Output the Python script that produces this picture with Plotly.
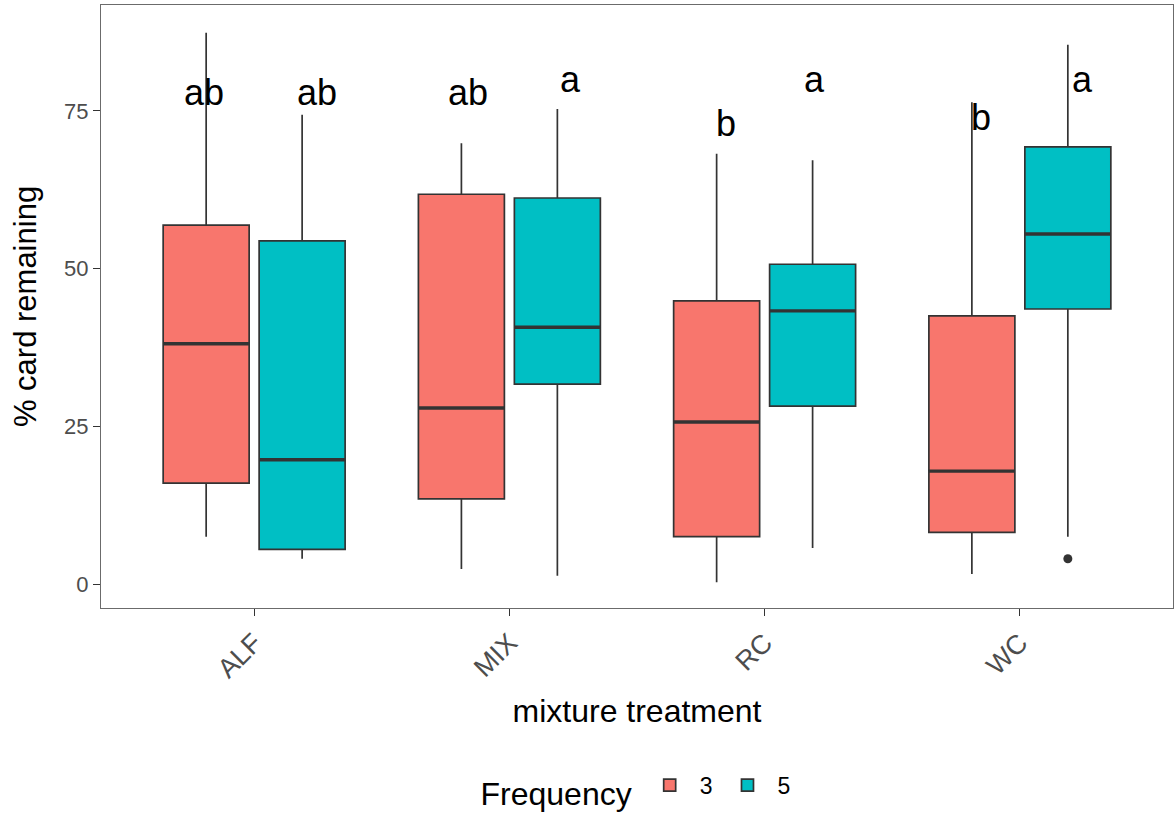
import plotly.graph_objects as go

categories = ["ALF", "MIX", "RC", "WC"]
frequencies = ["3", "5"]

# precomputed box statistics, per frequency, in category order
q1_f3 = [16.0, 13.5, 7.5, 8.2]
median_f3 = [38.1, 27.9, 25.7, 17.9]
q3_f3 = [56.9, 61.8, 44.9, 42.5]
lower_f3 = [7.5, 2.4, 0.3, 1.6]
upper_f3 = [87.4, 69.9, 68.2, 76.4]

q1_f5 = [5.5, 31.7, 28.2, 43.6]
median_f5 = [19.7, 40.7, 43.3, 55.5]
q3_f5 = [54.4, 61.2, 50.7, 69.3]
lower_f5 = [4.0, 1.3, 5.7, 7.5]
upper_f5 = [74.4, 75.3, 67.2, 85.5]

# outliers (category, value) per frequency
outlier_cat_f3 = []
outlier_val_f3 = []
outlier_cat_f5 = ["WC"]
outlier_val_f5 = [4.0]

# significance letters
letters_f3 = ["ab", "ab", "b", "b"]
letters_f5 = ["ab", "a", "a", "a"]
letter_y_f3 = [75.5, 75.5, 70.6, 71.5]
letter_y_f5 = [75.5, 77.5, 77.5, 77.5]

colors = {"3": "#F8766D", "5": "#00BFC4"}
FONT = "Liberation Sans, Arial, Helvetica, sans-serif"

fig = go.Figure()
stats = {
    "3": (q1_f3, median_f3, q3_f3, lower_f3, upper_f3, outlier_cat_f3, outlier_val_f3),
    "5": (q1_f5, median_f5, q3_f5, lower_f5, upper_f5, outlier_cat_f5, outlier_val_f5),
}
for f in frequencies:
    q1, med, q3, lo, up, oc, ov = stats[f]
    fig.add_trace(go.Box(
        name=f,
        x=categories,
        q1=q1, median=med, q3=q3, lowerfence=lo, upperfence=up,
        boxpoints=False,
        fillcolor=colors[f],
        line=dict(color="#333333", width=1.7),
        whiskerwidth=0,
        offsetgroup=f,
        legendgroup=f,
        hoverinfo="skip",
    ))
# thicker median bars (ggplot draws the median at double width)
for f in frequencies:
    q1, med, q3, lo, up, oc, ov = stats[f]
    fig.add_trace(go.Box(
        name=f,
        x=categories,
        q1=med, median=med, q3=med, lowerfence=med, upperfence=med,
        boxpoints=False,
        fillcolor="rgba(0,0,0,0)",
        line=dict(color="#333333", width=3.4),
        whiskerwidth=0,
        offsetgroup=f,
        legendgroup=f,
        showlegend=False,
        hoverinfo="skip",
    ))
for f in frequencies:
    q1, med, q3, lo, up, oc, ov = stats[f]
    fig.add_trace(go.Scatter(
        x=oc, y=ov, mode="markers",
        marker=dict(color="#333333", size=9),
        offsetgroup=f, legendgroup=f, showlegend=False, hoverinfo="skip",
    ))

# letter annotations, shifted to sit over each dodged box
shift_f3 = [-50, -41, -39, -39]
shift_f5 = [63, 61, 50, 63]
for i, c in enumerate(categories):
    for lab, yy, sh in ((letters_f3[i], letter_y_f3[i], shift_f3[i]),
                        (letters_f5[i], letter_y_f5[i], shift_f5[i])):
        fig.add_annotation(x=c, y=yy, xshift=sh, yshift=-7, text=lab, showarrow=False,
                           yanchor="bottom", xanchor="center",
                           font=dict(family=FONT, size=36, color="black"))

fig.update_layout(
    width=1175, height=814,
    margin=dict(l=101, r=2, t=5, b=206),
    paper_bgcolor="white", plot_bgcolor="white",
    boxmode="group", boxgap=0.248, boxgroupgap=0.104,
    scattermode="group", scattergap=0.248,
    font=dict(family=FONT, color="black"),
    showlegend=True,
    legend=dict(
        orientation="h", x=0.5, xanchor="center",
        yref="container", y=0.03, yanchor="middle",
        title=dict(text="Frequency", font=dict(size=32, color="black"), side="left"),
        font=dict(size=23, color="black"),
        itemwidth=50,
    ),
)
fig.update_xaxes(
    type="category", categoryorder="array", categoryarray=categories,
    range=[-0.6, 3.6], automargin=False,
    showline=True, mirror=True, linecolor="#6b6b6b", linewidth=1.3,
    ticks="outside", ticklen=7, tickcolor="#333333", tickwidth=1.3,
    tickangle=-45, tickfont=dict(size=27, color="#4D4D4D"),
    showgrid=False, zeroline=False,
    title=dict(text="mixture treatment", font=dict(size=32, color="black"), standoff=16),
)
fig.update_yaxes(
    type="linear", range=[-3.8, 91.8], tickvals=[0, 25, 50, 75], automargin=False,
    showline=True, mirror=True, linecolor="#6b6b6b", linewidth=1.3,
    ticks="outside", ticklen=7, tickcolor="#333333", tickwidth=1.3,
    tickfont=dict(size=22, color="#4D4D4D"),
    showgrid=False, zeroline=False,
    title=dict(text="% card remaining", font=dict(size=31, color="black"), standoff=18),
)

fig.write_html("out.html", config={"displayModeBar": False},
               post_script="document.body.style.margin='0';document.body.style.overflow='hidden';")
